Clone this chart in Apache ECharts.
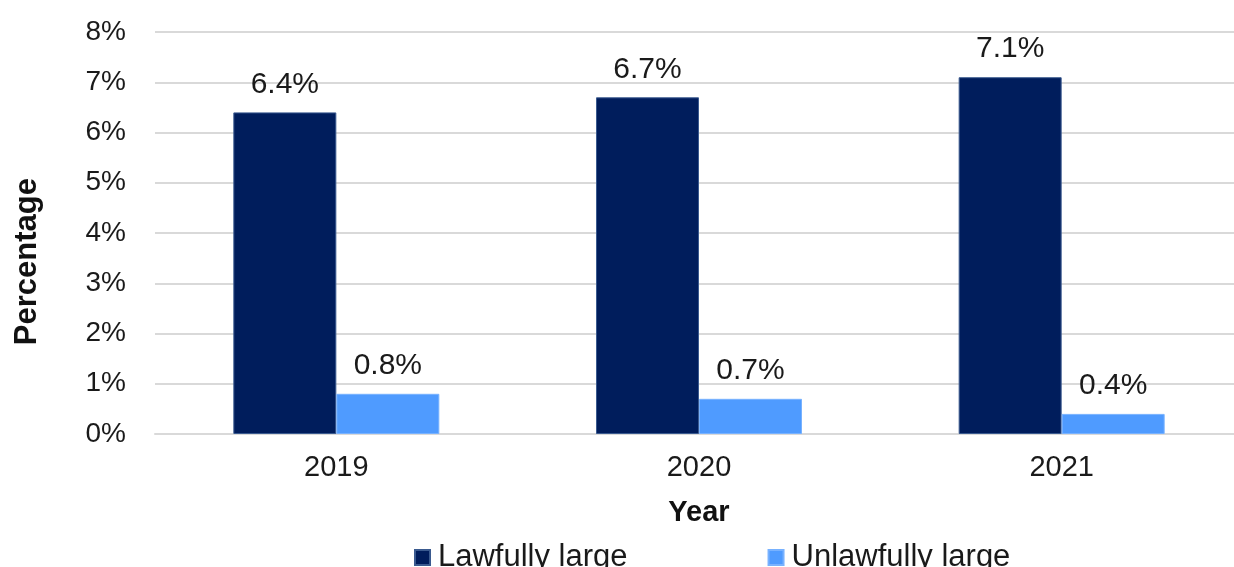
<!DOCTYPE html>
<html>
<head>
<meta charset="utf-8">
<script src="https://cdn.jsdelivr.net/npm/echarts@6/dist/echarts.min.js"></script>
<style>
  html, body { margin: 0; padding: 0; background: #ffffff; }
  #chart { width: 1234px; height: 567px; }
</style>
</head>
<body>
<div id="chart"></div>
<script>
// Share of large items by year
const years = ['2019', '2020', '2021'];
const lawfullyLarge = [6.4, 6.7, 7.1];
const unlawfullyLarge = [0.8, 0.7, 0.4];
const seriesNames = ['Lawfully large', 'Unlawfully large'];
const yTicks = [0, 1, 2, 3, 4, 5, 6, 7, 8];

const FONT = '"Liberation Sans", Arial, sans-serif';
const chart = echarts.init(document.getElementById('chart'), null, { renderer: 'canvas' });

const labelCfg = {
  show: true,
  position: 'top',
  distance: 13,
  color: '#1a1a1a',
  fontFamily: FONT,
  fontSize: 30,
  formatter: p => p.value.toFixed(1) + '%'
};

chart.setOption({
  animation: false,
  backgroundColor: '#ffffff',
  grid: { left: 155, top: 32, width: 1088, height: 402, containLabel: false, outerBoundsMode: 'none' },
  legend: {
    data: seriesNames,
    left: 409,
    top: 537,
    icon: 'rect',
    itemWidth: 15,
    itemHeight: 15,
    itemGap: 140,
    textStyle: { fontFamily: FONT, fontSize: 31, color: '#1a1a1a', padding: [0, 0, 0, 3] }
  },
  xAxis: {
    type: 'category',
    data: years,
    name: 'Year',
    nameLocation: 'middle',
    nameGap: 64,
    nameTextStyle: { fontFamily: FONT, fontSize: 29, fontWeight: 'bold', color: '#111' },
    axisLine: { show: true, lineStyle: { color: '#d9d9d9', width: 2 } },
    axisTick: { show: false },
    axisLabel: { fontFamily: FONT, fontSize: 29, color: '#1a1a1a', margin: 19 }
  },
  yAxis: {
    type: 'value',
    min: yTicks[0],
    max: yTicks[yTicks.length - 1],
    interval: 1,
    axisLine: { show: false },
    axisTick: { show: false },
    splitLine: { lineStyle: { color: '#d9d9d9', width: 2 } },
    axisLabel: {
      fontFamily: FONT, fontSize: 28, color: '#1a1a1a', margin: 29,
      formatter: v => v + '%'
    }
  },
  graphic: [{
    type: 'text',
    left: 12,
    top: 178,
    rotation: Math.PI / 2,
    style: {
      text: 'Percentage',
      fontFamily: FONT,
      fontSize: 31,
      fontWeight: 'bold',
      fill: '#111'
    },
    originX: 0, originY: 0
  }],
  series: [
    {
      name: seriesNames[0],
      type: 'bar',
      data: lawfullyLarge,
      barWidth: 103,
      barGap: '0%',
      itemStyle: { color: '#001d5c', borderColor: '#3a5a8f', borderWidth: 1 },
      label: labelCfg
    },
    {
      name: seriesNames[1],
      type: 'bar',
      data: unlawfullyLarge,
      barWidth: 103,
      barGap: '0%',
      itemStyle: { color: '#4f9bff', borderColor: '#78b2ff', borderWidth: 1 },
      label: labelCfg
    }
  ]
});
</script>
</body>
</html>
